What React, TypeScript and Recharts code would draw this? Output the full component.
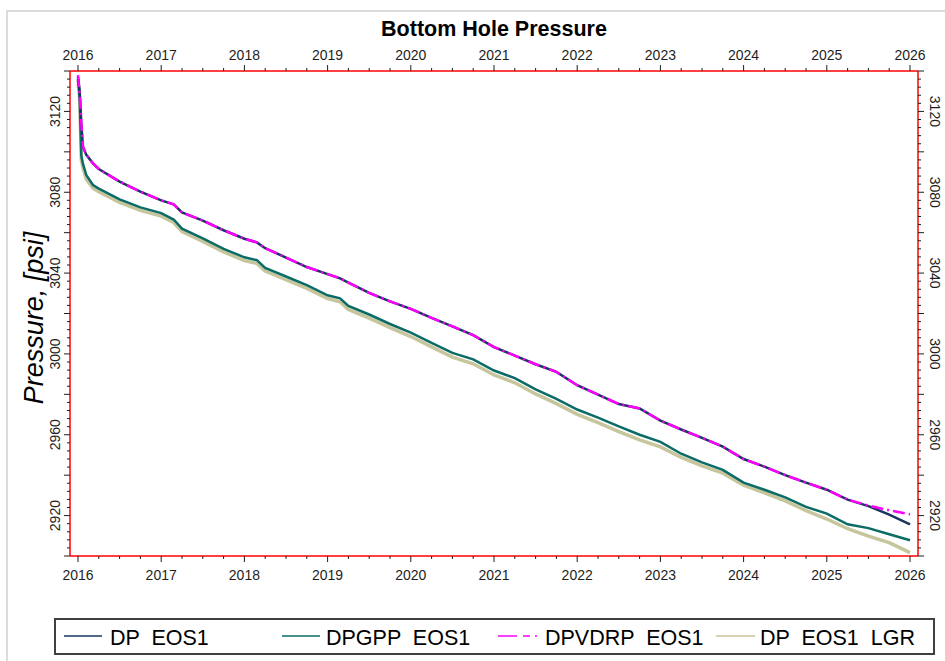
import { LineChart, Line, XAxis, YAxis } from "recharts";

// decimal years of the sampled points
const years = [
  2016.0, 2016.02, 2016.04, 2016.06, 2016.1, 2016.18, 2016.25, 2016.5, 2016.75,
  2017.0, 2017.15, 2017.25, 2017.5, 2017.75,
  2018.0, 2018.15, 2018.25, 2018.5, 2018.75,
  2019.0, 2019.15, 2019.25, 2019.5, 2019.75,
  2020.0, 2020.25, 2020.5, 2020.75,
  2021.0, 2021.25, 2021.5, 2021.75,
  2022.0, 2022.25, 2022.5, 2022.75,
  2023.0, 2023.25, 2023.5, 2023.75,
  2024.0, 2024.25, 2024.5, 2024.75,
  2025.0, 2025.25, 2025.5, 2025.75,
  2026.0,
];

const dpEos1 = [
  3137, 3130, 3114, 3102.5, 3098.5, 3094.3, 3091.5, 3085.3, 3080.3,
  3076, 3074, 3070, 3066, 3061.2,
  3057, 3055.2, 3052.3, 3047.7, 3043,
  3039.5, 3037.4, 3035.3, 3030.2, 3026,
  3022.3, 3017.8, 3013.6, 3009.3,
  3003.4, 2999.2, 2994.9, 2991.1,
  2984.5, 2979.8, 2975.2, 2973,
  2967, 2962.6, 2958.5, 2954.1,
  2948, 2944.2, 2940, 2936.3,
  2932.8, 2927.9, 2924.7, 2920.5,
  2915.7,
];

const dpgppEos1 = [
  3136, 3128, 3098, 3094, 3088.5, 3083.6, 3081.8, 3076.5, 3072.5,
  3069.7, 3066.5, 3062, 3057.2, 3052,
  3047.8, 3046.4, 3042.5, 3038.3, 3034,
  3029, 3027.5, 3023.8, 3019.5, 3014.8,
  3010.5, 3005.5, 3000.5, 2997.3,
  2991.8, 2988, 2982.5, 2977.8,
  2972.5, 2968.5, 2964.1, 2960,
  2956.5, 2950.6, 2946.3, 2942.6,
  2936.3, 2932.8, 2929, 2924.3,
  2921, 2915.7, 2913.8, 2910.8,
  2907.8,
];

const dpvdrpEos1 = [
  3138, 3129, 3114, 3102.5, 3098.5, 3094.3, 3091.5, 3085.3, 3080.3,
  3076, 3074, 3070, 3066, 3061.2,
  3057, 3055.2, 3052.3, 3047.7, 3043,
  3039.5, 3037.4, 3035.3, 3030.2, 3026,
  3022.3, 3017.8, 3013.6, 3009.3,
  3003.4, 2999.2, 2994.9, 2991.1,
  2984.5, 2979.8, 2975.2, 2973,
  2967, 2962.6, 2958.5, 2954.1,
  2948, 2944.2, 2940, 2936.3,
  2932.8, 2927.9, 2925, 2922.6,
  2920.7,
];

const dpEos1Lgr = [
  3136, 3126, 3096, 3092, 3086.5, 3082, 3080.2, 3075, 3071,
  3068.2, 3065, 3060.5, 3055.7, 3050.5,
  3046.2, 3044.8, 3041, 3036.7, 3032.4,
  3027.4, 3025.8, 3022, 3017.7, 3013,
  3008.6, 3003.5, 2998.4, 2995.1,
  2989.6, 2985.7, 2980.2, 2975.4,
  2970.1, 2966, 2961.6, 2957.5,
  2954, 2948.8, 2944.6, 2941,
  2935, 2931.3, 2927.3, 2922.5,
  2918.3, 2913.5, 2909.8, 2906.6,
  2901.7,
];

const yearLabels = [2016, 2017, 2018, 2019, 2020, 2021, 2022, 2023, 2024, 2025, 2026];
const pressureLabels = [2920, 2960, 3000, 3040, 3080, 3120];

const rows = years.map((t, i) => ({
  t,
  dp: dpEos1[i],
  gpp: dpgppEos1[i],
  vdrp: dpvdrpEos1[i],
  lgr: dpEos1Lgr[i],
}));

// quarter ticks between the labelled years
const xTicks: number[] = [];
yearLabels.forEach((y, i) => {
  xTicks.push(y);
  if (i < yearLabels.length - 1) {
    for (let q = 1; q < 4; q++) xTicks.push(y + q / 4);
  }
});
const yTicks: number[] = [];
for (let v = 2900; v <= 3140; v += 4) yTicks.push(v);

const FONT = "Arial, 'Liberation Sans', sans-serif";
const INK = "#1e1e1e";

const NAVY = "#17375e";
const TEAL = "#0b6b66";
const MAGENTA = "#ff00ff";
const KHAKI = "#c6c59c";

function XTick(props: any) {
  const { x, y, payload, top } = props;
  const v = payload.value;
  const major = Math.abs(v - Math.round(v)) < 1e-6;
  const dir = top ? -1 : 1;
  return (
    <g>
      <line x1={x} x2={x} y1={y} y2={y + dir * (major ? 6 : 3)} stroke={INK} strokeWidth={1} />
      {major && (
        <text x={x} y={top ? y - 11 : y + 24} textAnchor="middle" fontSize={14} fontFamily={FONT} fill={INK}>
          {Math.round(v)}
        </text>
      )}
    </g>
  );
}

function YTick(props: any) {
  const { x, y, payload, right } = props;
  const v = Math.round(payload.value);
  const major = v % 20 === 0;
  const dir = right ? 1 : -1;
  const lx = right ? x + 11.5 : x - 10;
  return (
    <g>
      <line x1={x} x2={x + dir * (major ? 6 : 3)} y1={y} y2={y} stroke={INK} strokeWidth={1} />
      {pressureLabels.includes(v) && (
        <text
          x={lx}
          y={y}
          transform={`rotate(${right ? 90 : -90} ${lx} ${y})`}
          textAnchor="middle"
          fontSize={14}
          fontFamily={FONT}
          fill={INK}
        >
          {v}
        </text>
      )}
    </g>
  );
}

const legendItems = [
  { x1: 64, x2: 102, tx: 110, label: "DP  EOS1", color: NAVY, dash: undefined },
  { x1: 282, x2: 320, tx: 326, label: "DPGPP  EOS1", color: TEAL, dash: undefined },
  { x1: 498, x2: 538, tx: 545, label: "DPVDRP  EOS1", color: MAGENTA, dash: "19 6 7 5 2 40" },
  { x1: 716, x2: 755, tx: 760, label: "DP  EOS1  LGR", color: KHAKI, dash: undefined },
];

export default function App() {
  const axisLine = { stroke: "#ff0000", strokeWidth: 1.5 };
  return (
    <div style={{ position: "absolute", left: 0, top: 0, width: 945, height: 661, background: "#fff", overflow: "hidden" }}>
      <div
        style={{
          position: "absolute",
          left: 6,
          top: 10,
          width: 960,
          height: 680,
          border: "2px solid #dcdcdc",
          boxSizing: "border-box",
        }}
      />
      <div style={{ position: "absolute", left: 0, top: 0 }}>
        <LineChart width={945} height={661} data={rows} margin={{ top: 70, right: 26, bottom: 104, left: 69 }}>
          <XAxis
            xAxisId="b"
            dataKey="t"
            type="number"
            domain={[2015.904, 2026.096]}
            allowDataOverflow
            ticks={xTicks}
            interval={0}
            height={1}
            tickSize={0}
            tickMargin={0}
            tickLine={false}
            axisLine={axisLine}
            tick={(p: any) => <XTick {...p} top={false} />}
          />
          <XAxis
            xAxisId="t"
            orientation="top"
            dataKey="t"
            type="number"
            domain={[2015.904, 2026.096]}
            allowDataOverflow
            ticks={xTicks}
            interval={0}
            height={1}
            tickSize={0}
            tickMargin={0}
            tickLine={false}
            axisLine={axisLine}
            tick={(p: any) => <XTick {...p} top />}
          />
          <YAxis
            yAxisId="l"
            type="number"
            domain={[2900, 3140]}
            allowDataOverflow
            ticks={yTicks}
            interval={0}
            width={1}
            tickSize={0}
            tickMargin={0}
            tickLine={false}
            axisLine={axisLine}
            tick={(p: any) => <YTick {...p} right={false} />}
          />
          <YAxis
            yAxisId="r"
            orientation="right"
            type="number"
            domain={[2900, 3140]}
            allowDataOverflow
            ticks={yTicks}
            interval={0}
            width={1}
            tickSize={0}
            tickMargin={0}
            tickLine={false}
            axisLine={axisLine}
            tick={(p: any) => <YTick {...p} right />}
          />
          <Line xAxisId="b" yAxisId="l" type="linear" dataKey="lgr" stroke={KHAKI} strokeWidth={3.5} dot={false} isAnimationActive={false} />
          <Line xAxisId="b" yAxisId="l" type="linear" dataKey="gpp" stroke={TEAL} strokeWidth={2.5} dot={false} isAnimationActive={false} />
          <Line xAxisId="t" yAxisId="r" type="linear" dataKey="dp" stroke={NAVY} strokeWidth={2.5} dot={false} isAnimationActive={false} />
          <Line
            xAxisId="t"
            yAxisId="r"
            type="linear"
            dataKey="vdrp"
            stroke={MAGENTA}
            strokeWidth={2.5}
            strokeDasharray="12 4 2 4"
            dot={false}
            isAnimationActive={false}
          />
        </LineChart>
      </div>
      <svg width={945} height={661} style={{ position: "absolute", left: 0, top: 0, pointerEvents: "none" }}>
        <text x={494} y={36} textAnchor="middle" fontSize={21.5} fontWeight="bold" fontFamily={FONT} fill="#000">
          Bottom Hole Pressure
        </text>
        <text
          x={43}
          y={318}
          transform="rotate(-90 43 318)"
          textAnchor="middle"
          fontSize={27}
          fontStyle="italic"
          fontFamily={FONT}
          fill="#000"
        >
          Pressure, [psi]
        </text>
        <rect x={55} y={619} width={879} height={35} fill="none" stroke="#404040" strokeWidth={2} />
        {legendItems.map((it) => (
          <g key={it.label}>
            <line x1={it.x1} x2={it.x2} y1={636} y2={636} stroke={it.color} strokeWidth={1.5} strokeDasharray={it.dash} />
            <text
              x={it.tx}
              y={645}
              fontSize={21.5}
              fontFamily={FONT}
              fill="#000"
              xmlSpace="preserve"
              style={{ whiteSpace: "pre" }}
            >
              {it.label}
            </text>
          </g>
        ))}
      </svg>
    </div>
  );
}
